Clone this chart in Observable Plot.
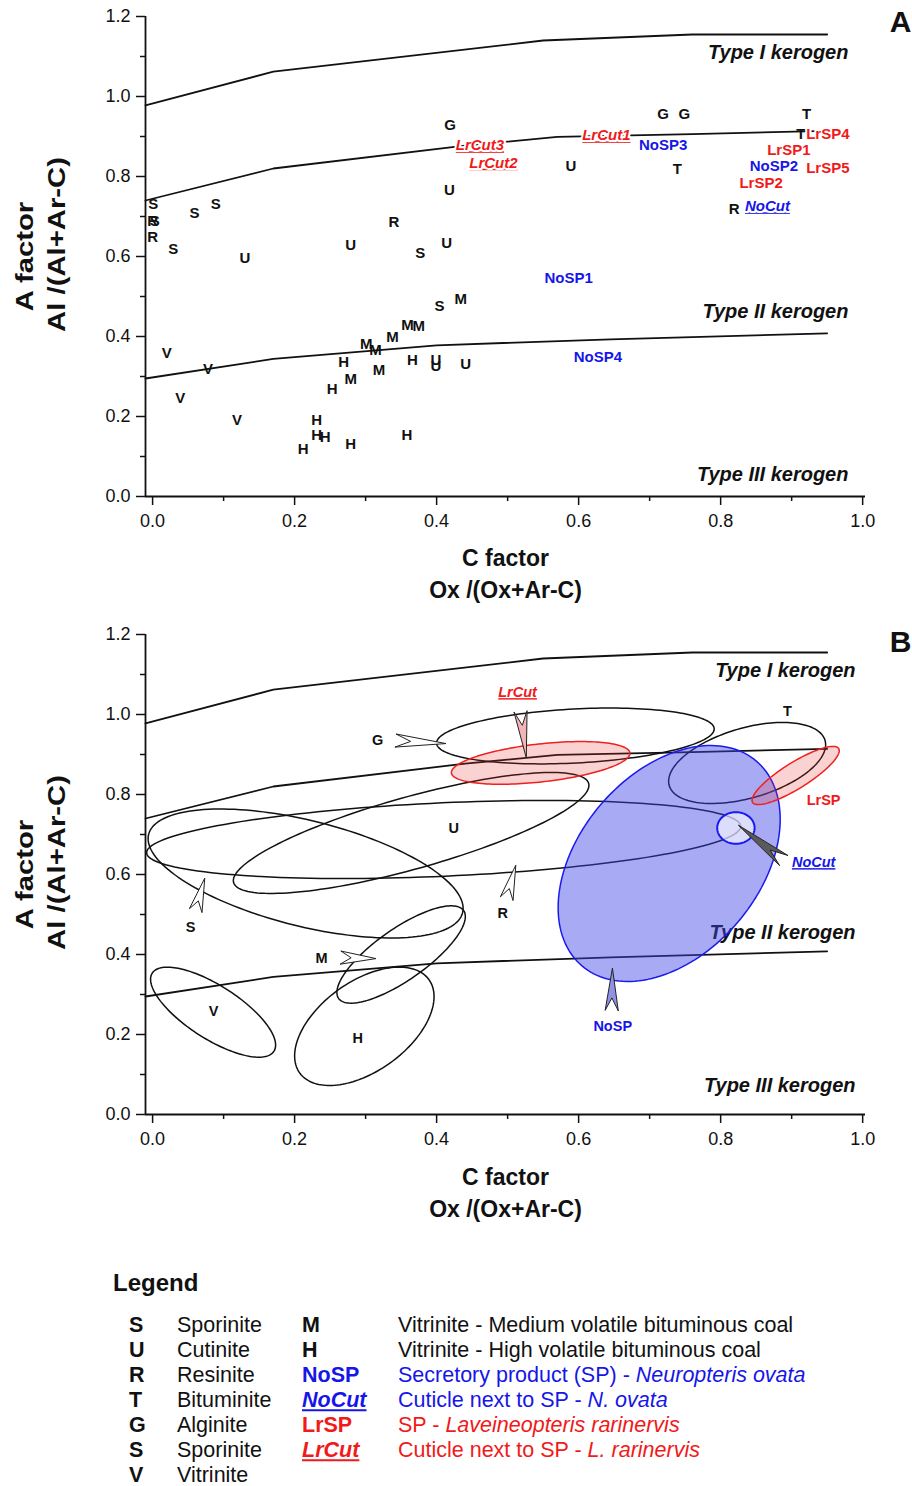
<!DOCTYPE html>
<html><head><meta charset="utf-8">
<script src="https://cdn.jsdelivr.net/npm/d3@7"></script>
<script src="https://cdn.jsdelivr.net/npm/@observablehq/plot@0.6"></script>
<style>
body{margin:0;background:#fff;font-family:"Liberation Sans",Arial,sans-serif;color:#111;}
#wrap{position:relative;width:912px;height:1486px;overflow:hidden;}
#panelA{position:absolute;left:0;top:0}
#panelB{position:absolute;left:0;top:610px}
.lg{position:absolute;font-size:21.5px;white-space:nowrap;line-height:1;transform:translateY(-50%);}
</style></head><body><div id="wrap"><div id="panelA"></div><div id="panelB"></div><div id="legend"></div></div>
<script>
// ---------- data ----------
const xTicks = [0, 0.2, 0.4, 0.6, 0.8, 1.0];
const xMinor = [0.1, 0.3, 0.5, 0.7, 0.9];
const yTicks = [0, 0.2, 0.4, 0.6, 0.8, 1.0, 1.2];
const yMinor = [0.1, 0.3, 0.5, 0.7, 0.9, 1.1];

// kerogen boundary curves [C factor, A factor]
const typeICurve = [[-0.01,0.978],[0.17,1.062],[0.55,1.14],[0.76,1.155],[0.95,1.155]];
const typeIICurve = [[-0.01,0.74],[0.17,0.82],[0.44,0.877],[0.57,0.899],[0.76,0.906],[0.95,0.914]];
const typeIIICurve = [[-0.01,0.295],[0.17,0.344],[0.40,0.378],[0.645,0.393],[0.95,0.408]];

const kerogenLabelsA = [
  {text:"Type I kerogen", c:0.98, a:1.11},
  {text:"Type II kerogen", c:0.98, a:0.4625},
  {text:"Type III kerogen", c:0.98, a:0.055}];
const kerogenLabelsB = [
  {text:"Type I kerogen", c:0.99, a:1.11},
  {text:"Type II kerogen", c:0.99, a:0.455},
  {text:"Type III kerogen", c:0.99, a:0.0725}];

// Panel A: maceral points (code, C factor, A factor)
const maceralPoints = [
  {code:"S",c:0.001,a:0.73},{code:"R",c:0.0,a:0.688},{code:"S",c:0.003,a:0.688},{code:"R",c:0.0,a:0.648},
  {code:"S",c:0.029,a:0.6175},{code:"S",c:0.059,a:0.709},{code:"S",c:0.089,a:0.73},{code:"U",c:0.13,a:0.597},
  {code:"U",c:0.279,a:0.6275},{code:"R",c:0.34,a:0.686},{code:"U",c:0.418,a:0.767},{code:"S",c:0.377,a:0.608},
  {code:"U",c:0.414,a:0.633},{code:"M",c:0.434,a:0.494},{code:"S",c:0.404,a:0.475},{code:"M",c:0.359,a:0.4275},
  {code:"M",c:0.375,a:0.426},{code:"M",c:0.338,a:0.398},{code:"M",c:0.301,a:0.382},{code:"M",c:0.314,a:0.365},
  {code:"H",c:0.269,a:0.336},{code:"H",c:0.366,a:0.342},{code:"U",c:0.399,a:0.34},{code:"U",c:0.399,a:0.325},
  {code:"U",c:0.441,a:0.332},{code:"M",c:0.279,a:0.294},{code:"M",c:0.319,a:0.317},{code:"H",c:0.253,a:0.269},
  {code:"V",c:0.02,a:0.359},{code:"V",c:0.078,a:0.3175},{code:"V",c:0.039,a:0.247},{code:"V",c:0.119,a:0.19},
  {code:"H",c:0.231,a:0.192},{code:"H",c:0.231,a:0.1525},{code:"H",c:0.243,a:0.148},{code:"H",c:0.212,a:0.119},
  {code:"H",c:0.279,a:0.132},{code:"H",c:0.358,a:0.1525},{code:"G",c:0.419,a:0.929},{code:"U",c:0.589,a:0.825},
  {code:"G",c:0.719,a:0.957},{code:"G",c:0.749,a:0.957},{code:"T",c:0.739,a:0.819},{code:"T",c:0.921,a:0.957},
  {code:"T",c:0.913,a:0.907},{code:"R",c:0.819,a:0.719}];
const noSPPoints = [{code:"NoSP3",c:0.719,a:0.8775},{code:"NoSP2",c:0.875,a:0.825},{code:"NoSP1",c:0.586,a:0.547},{code:"NoSP4",c:0.627,a:0.3475}];
const noCutPoints = [{code:"NoCut",c:0.866,a:0.725}];
const lrSPPoints = [{code:"LrSP4",c:0.951,a:0.905},{code:"LrSP1",c:0.896,a:0.865},{code:"LrSP5",c:0.951,a:0.822},{code:"LrSP2",c:0.857,a:0.784}];
const lrCutPoints = [{code:"LrCut3",c:0.461,a:0.8775},{code:"LrCut2",c:0.48,a:0.834},{code:"LrCut1",c:0.639,a:0.9025}];

// Panel B: group ellipses — centre (c,a) and two conjugate half-axis vectors in data units
const ellipses = [
  {name:"G",     c:0.5954,a:0.9463,ux:0.1955, uy:0.01818,vx:-0.00199,vy:0.0674},
  {name:"T",     c:0.8373,a:0.8788,ux:0.1097, uy:0.05657,vx:-0.01375,vy:0.08403},
  {name:"R",     c:0.4099,a:0.6875,ux:0.4183, uy:0.03333,vx:-0.00232,vy:0.09166},
  {name:"S",     c:0.2155,a:0.6025,ux:0.2211, uy:-0.09785,vx:0.01799,vy:0.1281},
  {name:"U",     c:0.3641,a:0.7038,ux:0.25003,uy:0.1239, vx:-0.01363,vy:0.08669},
  {name:"M",     c:0.35,  a:0.40,  ux:0.08803,uy:0.10982,vx:-0.02073,vy:0.05236},
  {name:"H",     c:0.2982,a:0.2205,ux:0.09094,uy:0.11684,vx:-0.037,  vy:0.09073},
  {name:"V",     c:0.0852,a:0.2558,ux:0.08569,uy:-0.09764,vx:0.02024,vy:0.05596},
  {name:"LrCut", c:0.5465,a:0.879, ux:0.1257, uy:0.02503,vx:-0.00298,vy:0.0472},
  {name:"NoSP",  c:0.7275,a:0.6275,ux:0.12277,uy:0.25606,vx:-0.09685,vy:0.1463},
  {name:"LrSP",  c:0.9056,a:0.8475,ux:0.06067,uy:0.06731,vx:-0.0097, vy:0.02756},
  {name:"NoCut", c:0.8215,a:0.7163,ux:0.02634,uy:0,      vx:0,       vy:0.0395}];

// Panel B: pointers (tail -> tip)
const pointers = [
  {name:"G",    tailC:0.3423,tailA:0.935, tipC:0.4127,tipA:0.9275},
  {name:"LrCut",tailC:0.5183,tailA:1.0075,tipC:0.5263,tipA:0.8925},
  {name:"S",    tailC:0.0606,tailA:0.51,  tipC:0.0732,tipA:0.59},
  {name:"R",    tailC:0.4986,tailA:0.54,  tipC:0.5113,tipA:0.6225},
  {name:"M",    tailC:0.2648,tailA:0.3925,tipC:0.3141,tipA:0.39},
  {name:"NoSP", tailC:0.6465,tailA:0.26,  tipC:0.6475,tipA:0.365},
  {name:"NoCut",tailC:0.8887,tailA:0.635, tipC:0.8254,tipA:0.7225}];

// Panel B labels
const groupLabelsB = [
  {code:"G",c:0.317,a:0.935},{code:"T",c:0.894,a:1.0075},{code:"U",c:0.424,a:0.715},{code:"S",c:0.0535,a:0.4675},
  {code:"R",c:0.493,a:0.5025},{code:"M",c:0.238,a:0.391},{code:"V",c:0.086,a:0.2575},{code:"H",c:0.289,a:0.19}];
const redLabelsB = [{code:"LrCut",c:0.514,a:1.055},{code:"LrSP",c:0.945,a:0.785}];
const blueLabelsB = [{code:"NoSP",c:0.648,a:0.22},{code:"NoCut",c:0.931,a:0.63}];

// Legend
const legendMacerals = [["S","Sporinite"],["U","Cutinite"],["R","Resinite"],["T","Bituminite"],["G","Alginite"],["S","Sporinite"],["V","Vitrinite"]];
const legendGroups = [
  {code:"M", text:"Vitrinite - Medium volatile bituminous coal", ital:""},
  {code:"H", text:"Vitrinite - High volatile bituminous coal", ital:""},
  {code:"NoSP", text:"Secretory product (SP) - ", ital:"Neuropteris ovata"},
  {code:"NoCut", text:"Cuticle next to SP - ", ital:"N. ovata"},
  {code:"LrSP", text:"SP - ", ital:"Laveineopteris rarinervis"},
  {code:"LrCut", text:"Cuticle next to SP - ", ital:"L. rarinervis"}];

// ---------- styles ----------
const BLACK = "#111", BLUE = "#1616e8", RED = "#f01a1a";
const FONT = "'Liberation Sans', Arial, sans-serif";
const W = 912, ML = 145, MR = 47;
const XDOM = [-0.01, 1.004], YDOM = [0, 1.2];
const SX = (W - ML - MR) / (XDOM[1] - XDOM[0]);
const SY = 480 / (YDOM[1] - YDOM[0]);
const underlined = new Set(["LrCut1","LrCut2","LrCut3","NoCut","LrCut"]);
const italicCodes = new Set(["LrCut1","LrCut2","LrCut3","NoCut","LrCut"]);
const ellipseStyle = {
  G:{stroke:BLACK}, T:{stroke:BLACK}, R:{stroke:BLACK}, S:{stroke:BLACK}, U:{stroke:BLACK},
  M:{stroke:BLACK}, H:{stroke:BLACK}, V:{stroke:BLACK},
  LrCut:{stroke:"#ee2020", fill:"#e83030", fillOpacity:0.22},
  NoSP:{stroke:"#1a1aee", fill:"#3d44e6", fillOpacity:0.45},
  LrSP:{stroke:"#ee2020", fill:"#e83030", fillOpacity:0.22},
  NoCut:{stroke:"#1a1aee", fill:"#ffffff", fillOpacity:0.6, strokeWidth:2}};
const pointerFill = {G:"#fff", S:"#fff", R:"#fff", M:"#fff", LrCut:"#f2b4b4", NoSP:"#8e93e6", NoCut:"#5a5a5a"};

function ellipsePts(e, n = 160) {
  return d3.range(n).map(i => {
    const t = 2 * Math.PI * i / n;
    return {x: e.c + e.ux * Math.cos(t) + e.vx * Math.sin(t), y: e.a + e.uy * Math.cos(t) + e.vy * Math.sin(t)};
  });
}
function dartPts(p) {
  const dx = (p.tipC - p.tailC) * SX, dy = (p.tipA - p.tailA) * SY;
  const L = Math.hypot(dx, dy), ux = dx / L, uy = dy / L, px = -uy, py = ux, w = 6.5, notch = 0.3 * L;
  return [[dx, dy], [px * w, py * w], [ux * notch, uy * notch], [-px * w, -py * w]]
    .map(([ox, oy]) => ({x: p.tailC + ox / SX, y: p.tailA + oy / SY}));
}

function frameMarks(letter, letterDy, titleShift) {
  const f1 = d3.format(".1f");
  const titleStyle = {text: d => d, fontSize: 23, fontWeight: "bold", fill: BLACK, lineAnchor: "middle", textAnchor: "middle"};
  return [
    Plot.axisX({ticks: xTicks, tickSize: 9, tickPadding: 9, tickFormat: f1, fontSize: 18, label: null, strokeWidth: 1.5}),
    Plot.axisX({ticks: xMinor, tickSize: 5, tickFormat: () => "", label: null, strokeWidth: 1.5}),
    Plot.axisY({ticks: yTicks, tickSize: 9, tickPadding: 6, tickFormat: f1, fontSize: 18, label: null, strokeWidth: 1.5}),
    Plot.axisY({ticks: yMinor, tickSize: 5, tickFormat: () => "", label: null, strokeWidth: 1.5}),
    Plot.ruleX([XDOM[0]], {stroke: BLACK, strokeWidth: 1.8}),
    Plot.ruleY([0], {stroke: BLACK, strokeWidth: 1.8}),
    Plot.text(["C factor"], {...titleStyle, frameAnchor: "bottom", dy: 62 + titleShift}),
    Plot.text(["Ox /(Ox+Ar-C)"], {...titleStyle, frameAnchor: "bottom", dy: 94 + titleShift}),
    Plot.text(["A factor"], {...titleStyle, frameAnchor: "left", dx: -120, dy: 0, rotate: -90, fontSize: 24}),
    Plot.text(["Al /(Al+Ar-C)"], {...titleStyle, frameAnchor: "left", dx: -88, dy: -12, rotate: -90, fontSize: 24}),
    Plot.text([letter], {text: d => d, frameAnchor: "top-right", dx: 35, dy: letterDy, fontSize: 30, fontWeight: "bold",
      fill: BLACK, lineAnchor: "middle", textAnchor: "middle"})
  ];
}
function curveMarks(labels) {
  return [
    ...[typeICurve, typeIICurve, typeIIICurve].map(cv => Plot.line(cv, {x: d => d[0], y: d => d[1], stroke: BLACK, strokeWidth: 1.8})),
    Plot.text(labels, {x: "c", y: "a", text: "text", textAnchor: "end", fontStyle: "italic", fontWeight: "bold", fontSize: 20, fill: BLACK})
  ];
}
function finish(svg) {
  const sel = d3.select(svg).selectAll("text");
  sel.filter(function () { return underlined.has(this.textContent); }).style("text-decoration", "underline");
  sel.filter(function () { return italicCodes.has(this.textContent); }).style("font-style", "italic");
  // stretch the rotated axis titles along their baseline, as in the reference
  sel.filter(function () { return this.textContent === "A factor" || this.textContent === "Al /(Al+Ar-C)"; })
    .each(function () { const t = this.getAttribute("transform") || ""; this.setAttribute("transform", t + " scale(1.22,1)"); });
}
const common = {width: W, marginLeft: ML, marginRight: MR, x: {domain: XDOM}, y: {domain: YDOM},
  style: {fontFamily: FONT, background: "white", overflow: "visible", color: BLACK}};

// ---------- Panel A ----------
const halo = {stroke: "white", strokeWidth: 4, paintOrder: "stroke"};
const plotA = Plot.plot({...common, height: 610, marginTop: 16, marginBottom: 114,
  marks: [
    ...curveMarks(kerogenLabelsA),
    Plot.text(maceralPoints, {x: "c", y: "a", text: "code", fontWeight: "bold", fontSize: 15, fill: BLACK}),
    Plot.text(noSPPoints, {x: "c", y: "a", text: "code", fontWeight: "bold", fontSize: 15, fill: BLUE, ...halo}),
    Plot.text(noCutPoints, {x: "c", y: "a", text: "code", fontWeight: "bold", fontSize: 15, fill: BLUE, ...halo}),
    Plot.text(lrSPPoints, {x: "c", y: "a", text: "code", fontWeight: "bold", fontSize: 15, fill: RED, ...halo}),
    Plot.text(lrCutPoints, {x: "c", y: "a", text: "code", fontWeight: "bold", fontSize: 15, fill: RED, ...halo}),
    ...frameMarks("A", 6, 0)
  ]});
finish(plotA);
document.getElementById("panelA").appendChild(plotA);

// ---------- Panel B ----------
const ellipseMarks = ellipses.map(e => {
  const s = ellipseStyle[e.name];
  return Plot.line(ellipsePts(e), {x: "x", y: "y", curve: "linear-closed", stroke: s.stroke,
    strokeWidth: s.strokeWidth || 1.5, fill: s.fill || "none", fillOpacity: s.fillOpacity || 1});
});
const pointerMarks = pointers.map(p => Plot.line(dartPts(p), {x: "x", y: "y", curve: "linear-closed",
  stroke: "#222", strokeWidth: 1, fill: pointerFill[p.name]}));
const plotB = Plot.plot({...common, height: 625, marginTop: 24, marginBottom: 121,
  marks: [
    ...curveMarks(kerogenLabelsB),
    ...ellipseMarks,
    ...pointerMarks,
    Plot.text(groupLabelsB, {x: "c", y: "a", text: "code", fontWeight: "bold", fontSize: 14.5, fill: BLACK}),
    Plot.text(redLabelsB, {x: "c", y: "a", text: "code", fontWeight: "bold", fontSize: 14.5, fill: RED}),
    Plot.text(blueLabelsB, {x: "c", y: "a", text: "code", fontWeight: "bold", fontSize: 14.5, fill: BLUE}),
    ...frameMarks("B", 8, 1)
  ]});
finish(plotB);
document.getElementById("panelB").appendChild(plotB);

// ---------- Legend ----------
const lg = document.getElementById("legend");
function span(x, y, html, style) {
  const s = document.createElement("div");
  s.className = "lg"; s.style.left = x + "px"; s.style.top = y + "px";
  s.innerHTML = html; if (style) Object.assign(s.style, style);
  lg.appendChild(s);
}
span(113, 1283, "Legend", {fontWeight: "bold", fontSize: "24px"});
legendMacerals.forEach(([code, name], i) => {
  const y = 1326 + 25 * i;
  span(129, y, code, {fontWeight: "bold"});
  span(177, y, name);
});
const groupColor = {M: BLACK, H: BLACK, NoSP: BLUE, NoCut: BLUE, LrSP: RED, LrCut: RED};
legendGroups.forEach((g, i) => {
  const y = 1326 + 25 * i;
  const ital = underlined.has(g.code);
  span(302, y, g.code, {fontWeight: "bold", color: groupColor[g.code], fontStyle: ital ? "italic" : "normal",
    textDecoration: ital ? "underline" : "none"});
  span(398, y, g.text + (g.ital ? "<i>" + g.ital + "</i>" : ""), {color: groupColor[g.code]});
});
</script></body></html>
